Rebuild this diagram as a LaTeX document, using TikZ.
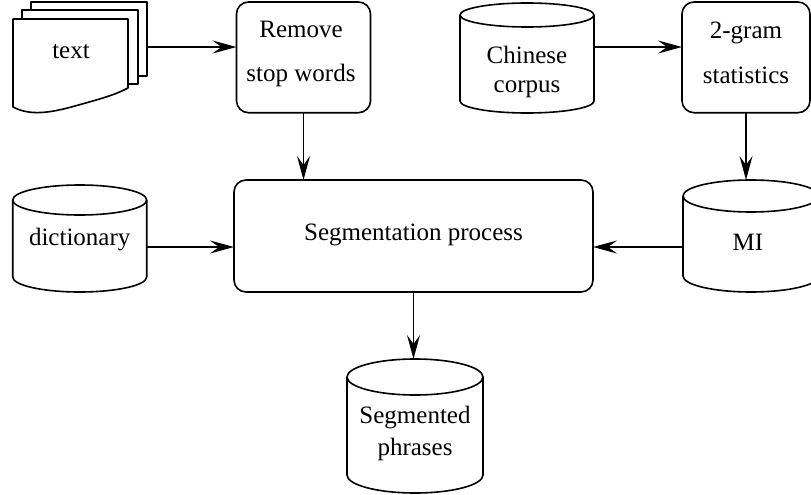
\documentclass[tikz,border=0pt]{standalone}
\usepackage{fontspec}
\setmainfont{Liberation Serif}
\usetikzlibrary{arrows.meta,calc}

% cylinder outline: left, right, top, bottom, ellipse half-height
\newcommand\dbdraw[5]{%
  \pgfmathsetmacro\dbrx{(#2-#1)/2}%
  \pgfmathsetmacro\dbcx{(#1+#2)/2}%
  \draw[outline,fill=white] ({#1},{#3+#5}) -- ({#1},{#4-#5})
    arc[start angle=180,end angle=360,x radius=\dbrx pt,y radius=#5pt]
    -- ({#2},{#3+#5});
  \draw[outline] (\dbcx,{#3+#5}) ellipse[x radius=\dbrx pt,y radius=#5pt];
}

\tikzset{
  outline/.style={line width=1.6pt,line join=round},
  area/.style={rectangle,inner sep=0pt,outer sep=0pt,minimum width=#1},
  procbox/.style={outline,draw,rectangle,rounded corners=12pt,inner sep=0pt,outer sep=0pt},
  sheet/.style={outline,draw,fill=white,rectangle,inner sep=0pt,outer sep=0pt},
  lbl/.style={font=\fontsize{25}{30}\selectfont,align=center,inner sep=0pt},
  arr/.style={line width=1.6pt,-{Stealth[length=24pt,width=13pt,inset=9pt]}},
}

\begin{document}
\begin{tikzpicture}[x=1pt,y=-1pt]
\useasboundingbox (0,0) rectangle (811,495);

% stacked text sheets
\node[sheet,minimum width=116pt,minimum height=74pt] (sheet3) at (89,39) {};
\node[sheet,minimum width=116pt,minimum height=74pt] (sheet2) at (80,47) {};
\draw[outline,fill=white] (13,19) -- (128,19) -- (128,88)
  .. controls (115,95) and (100,99) .. (75,106)
  .. controls (50,113) and (30,116) .. (13,107) -- cycle;
\coordinate (sheet1) at (70.5,63);
\node[lbl] (textlbl) at (71,51.3) {text};

% rounded process boxes
\node[procbox,minimum width=134pt,minimum height=110.7pt] (remove) at (303.5,57.35) {};
\node[lbl] (removelbl) at (301,54) {Remove\\[14.4pt]stop words};

\node[procbox,minimum width=128pt,minimum height=110.7pt] (gram) at (746,57.35) {};
\node[lbl] (gramlbl) at (746,52.4) {2-gram\\[15pt]statistics};

\node[procbox,minimum width=359pt,minimum height=112pt] (seg) at (413.5,236) {};
\node[lbl] (seglbl) at (413.5,235.3) {Segmentation process};

% data stores
\dbdraw{460}{594}{3}{113}{12}
\node[area=134pt,minimum height=110pt] (chinese) at (527,58) {};
\node[lbl] (chineselbl) at (527,71.9) {Chinese\\[-1pt]corpus};

\dbdraw{12.7}{146.7}{185}{292}{15}
\node[area=134pt,minimum height=107pt] (dict) at (79.7,238.5) {};
\node[lbl] (dictlbl) at (79.7,239.4) {dictionary};

\dbdraw{683}{819}{180}{292}{16}
\node[area=136pt,minimum height=112pt] (mi) at (751,236) {};
\node[lbl] (milbl) at (748,242) {MI};

\dbdraw{347}{483}{359}{493}{18}
\node[area=136pt,minimum height=134pt] (phr) at (415,426) {};
\node[lbl] (phrlbl) at (415,433.4) {Segmented\\[2pt]phrases};

% connectors
\coordinate (a1) at ([yshift=-8pt]sheet3.east);
\draw[arr] (a1) -- (a1 -| remove.west);
\coordinate (a2) at ([yshift=11pt]chinese.east);
\draw[arr] (a2) -- (a2 -| gram.west);
\draw[arr] (remove.south) -- (remove.south |- seg.north);
\draw[arr] (gram.south) -- (gram.south |- mi.north);
\coordinate (a3) at ([yshift=-8.5pt]dict.east);
\draw[arr] (a3) -- (a3 -| seg.west);
\coordinate (a4) at ([yshift=-11pt]mi.west);
\draw[arr] (a4) -- (a4 -| seg.east);
\draw[arr] (seg.south) -- (seg.south |- phr.north);
\end{tikzpicture}
\end{document}
